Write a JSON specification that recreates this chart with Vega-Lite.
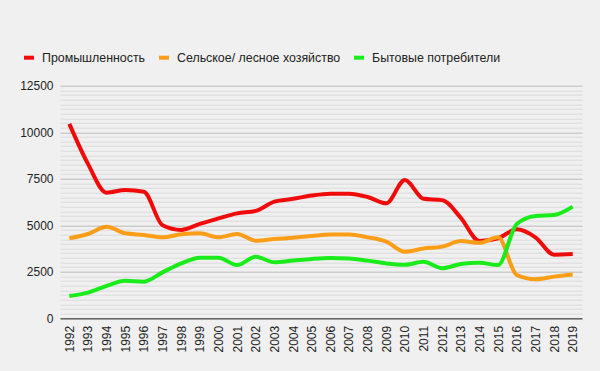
{
  "$schema": "https://vega.github.io/schema/vega-lite/v6.json",
  "width": 522,
  "height": 232.6,
  "autosize": {"type": "none"},
  "padding": {"left": 60, "top": 85.7, "right": 18, "bottom": 52.7},
  "background": "#f0f0f0",
  "config": {
    "view": {"stroke": null},
    "font": "Liberation Sans",
    "axis": {"labelFont": "Liberation Sans", "labelColor": "#222222", "labelFontSize": 12, "title": null},
    "legend": {"labelFont": "Liberation Sans", "labelColor": "#222222", "labelFontSize": 12.4, "labelLimit": 400}
  },
  "data": {
    "values": [
      {"year": "1992", "series": "Промышленность", "value": 10450},
      {"year": "1993", "series": "Промышленность", "value": 8300},
      {"year": "1994", "series": "Промышленность", "value": 6750},
      {"year": "1995", "series": "Промышленность", "value": 6900},
      {"year": "1996", "series": "Промышленность", "value": 6800},
      {"year": "1997", "series": "Промышленность", "value": 5000},
      {"year": "1998", "series": "Промышленность", "value": 4750},
      {"year": "1999", "series": "Промышленность", "value": 5070},
      {"year": "2000", "series": "Промышленность", "value": 5370},
      {"year": "2001", "series": "Промышленность", "value": 5640},
      {"year": "2002", "series": "Промышленность", "value": 5770},
      {"year": "2003", "series": "Промышленность", "value": 6270},
      {"year": "2004", "series": "Промышленность", "value": 6420},
      {"year": "2005", "series": "Промышленность", "value": 6600},
      {"year": "2006", "series": "Промышленность", "value": 6700},
      {"year": "2007", "series": "Промышленность", "value": 6700},
      {"year": "2008", "series": "Промышленность", "value": 6520},
      {"year": "2009", "series": "Промышленность", "value": 6180},
      {"year": "2010", "series": "Промышленность", "value": 7430},
      {"year": "2011", "series": "Промышленность", "value": 6420},
      {"year": "2012", "series": "Промышленность", "value": 6350},
      {"year": "2013", "series": "Промышленность", "value": 5400},
      {"year": "2014", "series": "Промышленность", "value": 4150},
      {"year": "2015", "series": "Промышленность", "value": 4300},
      {"year": "2016", "series": "Промышленность", "value": 4780},
      {"year": "2017", "series": "Промышленность", "value": 4350},
      {"year": "2018", "series": "Промышленность", "value": 3420},
      {"year": "2019", "series": "Промышленность", "value": 3450},
      {"year": "1992", "series": "Сельское/ лесное хозяйство", "value": 4300},
      {"year": "1993", "series": "Сельское/ лесное хозяйство", "value": 4530},
      {"year": "1994", "series": "Сельское/ лесное хозяйство", "value": 4920},
      {"year": "1995", "series": "Сельское/ лесное хозяйство", "value": 4570},
      {"year": "1996", "series": "Сельское/ лесное хозяйство", "value": 4480},
      {"year": "1997", "series": "Сельское/ лесное хозяйство", "value": 4350},
      {"year": "1998", "series": "Сельское/ лесное хозяйство", "value": 4520},
      {"year": "1999", "series": "Сельское/ лесное хозяйство", "value": 4570},
      {"year": "2000", "series": "Сельское/ лесное хозяйство", "value": 4350},
      {"year": "2001", "series": "Сельское/ лесное хозяйство", "value": 4530},
      {"year": "2002", "series": "Сельское/ лесное хозяйство", "value": 4170},
      {"year": "2003", "series": "Сельское/ лесное хозяйство", "value": 4260},
      {"year": "2004", "series": "Сельское/ лесное хозяйство", "value": 4330},
      {"year": "2005", "series": "Сельское/ лесное хозяйство", "value": 4420},
      {"year": "2006", "series": "Сельское/ лесное хозяйство", "value": 4500},
      {"year": "2007", "series": "Сельское/ лесное хозяйство", "value": 4500},
      {"year": "2008", "series": "Сельское/ лесное хозяйство", "value": 4350},
      {"year": "2009", "series": "Сельское/ лесное хозяйство", "value": 4120},
      {"year": "2010", "series": "Сельское/ лесное хозяйство", "value": 3580},
      {"year": "2011", "series": "Сельское/ лесное хозяйство", "value": 3750},
      {"year": "2012", "series": "Сельское/ лесное хозяйство", "value": 3850},
      {"year": "2013", "series": "Сельское/ лесное хозяйство", "value": 4150},
      {"year": "2014", "series": "Сельское/ лесное хозяйство", "value": 4060},
      {"year": "2015", "series": "Сельское/ лесное хозяйство", "value": 4350},
      {"year": "2016", "series": "Сельское/ лесное хозяйство", "value": 2330},
      {"year": "2017", "series": "Сельское/ лесное хозяйство", "value": 2100},
      {"year": "2018", "series": "Сельское/ лесное хозяйство", "value": 2240},
      {"year": "2019", "series": "Сельское/ лесное хозяйство", "value": 2350},
      {"year": "1992", "series": "Бытовые потребители", "value": 1200},
      {"year": "1993", "series": "Бытовые потребители", "value": 1380},
      {"year": "1994", "series": "Бытовые потребители", "value": 1740},
      {"year": "1995", "series": "Бытовые потребители", "value": 2020},
      {"year": "1996", "series": "Бытовые потребители", "value": 1970},
      {"year": "1997", "series": "Бытовые потребители", "value": 2470},
      {"year": "1998", "series": "Бытовые потребители", "value": 2950},
      {"year": "1999", "series": "Бытовые потребители", "value": 3260},
      {"year": "2000", "series": "Бытовые потребители", "value": 3260},
      {"year": "2001", "series": "Бытовые потребители", "value": 2860},
      {"year": "2002", "series": "Бытовые потребители", "value": 3310},
      {"year": "2003", "series": "Бытовые потребители", "value": 3010},
      {"year": "2004", "series": "Бытовые потребители", "value": 3100},
      {"year": "2005", "series": "Бытовые потребители", "value": 3190},
      {"year": "2006", "series": "Бытовые потребители", "value": 3240},
      {"year": "2007", "series": "Бытовые потребители", "value": 3220},
      {"year": "2008", "series": "Бытовые потребители", "value": 3100},
      {"year": "2009", "series": "Бытовые потребители", "value": 2950},
      {"year": "2010", "series": "Бытовые потребители", "value": 2880},
      {"year": "2011", "series": "Бытовые потребители", "value": 3040},
      {"year": "2012", "series": "Бытовые потребители", "value": 2690},
      {"year": "2013", "series": "Бытовые потребители", "value": 2920},
      {"year": "2014", "series": "Бытовые потребители", "value": 2990},
      {"year": "2015", "series": "Бытовые потребители", "value": 2860},
      {"year": "2016", "series": "Бытовые потребители", "value": 5070},
      {"year": "2017", "series": "Бытовые потребители", "value": 5500},
      {"year": "2018", "series": "Бытовые потребители", "value": 5550},
      {"year": "2019", "series": "Бытовые потребители", "value": 6000}
    ]
  },
  "encoding": {
    "x": {
      "field": "year",
      "type": "ordinal",
      "scale": {"type": "point", "padding": 0.5},
      "axis": {
        "labelAngle": -90,
        "labelAlign": "right",
        "labelBaseline": "middle",
        "labelPadding": 7,
        "ticks": false,
        "domain": true,
        "domainColor": "#333333",
        "domainWidth": 1,
        "grid": false,
        "title": null
      }
    }
  },
  "layer": [
    {
      "mark": {"type": "line", "strokeOpacity": 0},
      "encoding": {
        "y": {
          "field": "value",
          "type": "quantitative",
          "scale": {"domain": [0, 12500], "nice": false},
          "axis": {
            "orient": "left",
            "values": [250, 500, 750, 1000, 1250, 1500, 1750, 2000, 2250, 2750, 3000, 3250, 3500, 3750, 4000, 4250, 4500, 4750, 5250, 5500, 5750, 6000, 6250, 6500, 6750, 7000, 7250, 7750, 8000, 8250, 8500, 8750, 9000, 9250, 9500, 9750, 10250, 10500, 10750, 11000, 11250, 11500, 11750, 12000, 12250],
            "labels": false,
            "ticks": false,
            "domain": false,
            "grid": true,
            "gridColor": "#dadada",
            "gridWidth": 1,
            "title": null
          }
        },
        "detail": {"field": "series"}
      }
    },
    {
      "mark": {"type": "line", "interpolate": "monotone", "strokeWidth": 4, "strokeCap": "butt"},
      "encoding": {
        "y": {
          "field": "value",
          "type": "quantitative",
          "scale": {"domain": [0, 12500], "nice": false},
          "axis": {
            "orient": "left",
            "values": [0, 2500, 5000, 7500, 10000, 12500],
            "format": "d",
            "labelPadding": 7,
            "ticks": false,
            "domain": false,
            "grid": true,
            "gridColor": "#bbbbbb",
            "gridWidth": 1,
            "title": null
          }
        },
        "color": {
          "field": "series",
          "type": "nominal",
          "scale": {
            "domain": ["Промышленность", "Сельское/ лесное хозяйство", "Бытовые потребители"],
            "range": ["#f00a0a", "#fb9d16", "#1aeb1a"]
          },
          "legend": {
            "orient": "none",
            "legendX": -38,
            "legendY": -35,
            "direction": "horizontal",
            "title": null,
            "symbolType": "stroke",
            "symbolSize": 100,
            "symbolStrokeWidth": 4,
            "labelOffset": 6,
            "columnPadding": 5,
            "padding": 0
          }
        }
      }
    }
  ],
  "resolve": {"axis": {"y": "independent"}}
}
